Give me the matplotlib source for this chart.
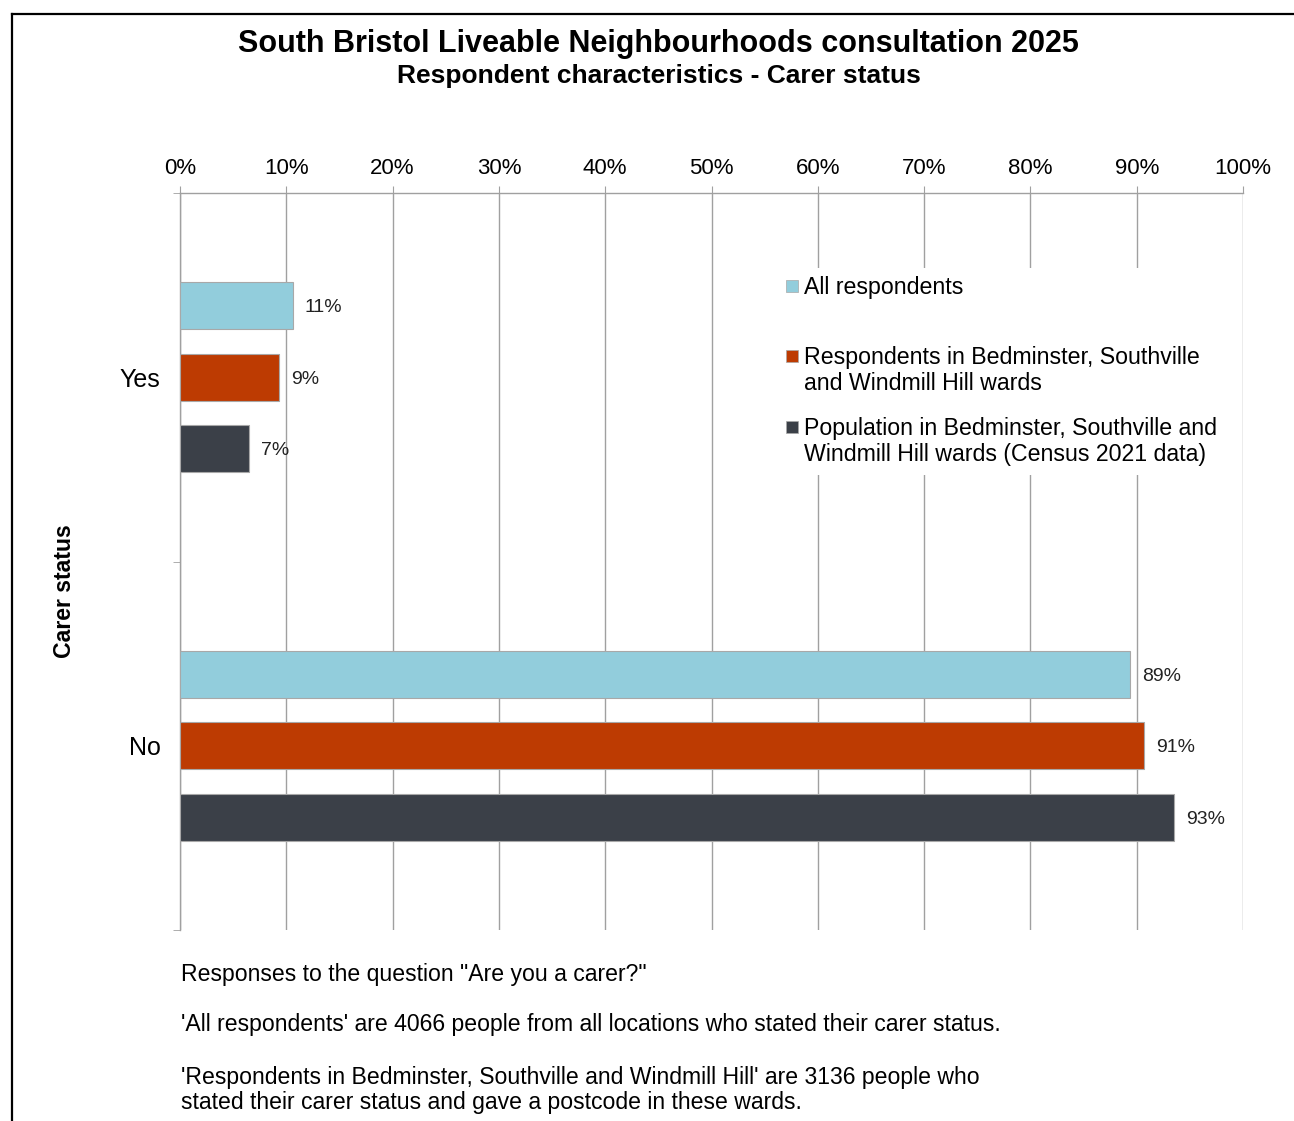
import matplotlib.pyplot as plt
from matplotlib.lines import Line2D
from matplotlib.patches import Rectangle
import numpy as np

plt.rcParams['font.family'] = ['Liberation Sans', 'DejaVu Sans']

# данные
categories = ['Yes', 'No']
series_names = ['All respondents',
                'Respondents in Bedminster, Southville\nand Windmill Hill wards',
                'Population in Bedminster, Southville and\nWindmill Hill wards (Census 2021 data)']
all_resp = [10.6, 89.4]
ward_resp = [9.3, 90.7]
ward_pop = [6.5, 93.5]
value_labels = [['11%', '89%'], ['9%', '91%'], ['7%', '93%']]
colors = ['#92CDDC', '#BD3B02', '#3B4048']
xticks = np.arange(0, 101, 10)

fig = plt.figure(figsize=(12.94, 11.21), dpi=100)
ax = fig.add_axes([0.1391, 0.1704, 0.8215, 0.6574])

# рамка слева и сверху
fig.add_artist(Line2D([12/1294, 12/1294], [1 - 14/1121, 0], transform=fig.transFigure, color='black', lw=1.6))
fig.add_artist(Line2D([12/1294, 1], [1 - 14/1121, 1 - 14/1121], transform=fig.transFigure, color='black', lw=1.6))

# столбцы
y = np.arange(len(categories))
h = 0.1275
step = 0.194
series = [all_resp, ward_resp, ward_pop]
for i, vals in enumerate(series):
    yy = y + (i - 1) * step
    ax.barh(yy, vals, height=h, color=colors[i], edgecolor='#a8a8a8', linewidth=0.8, zorder=3)
    for v, yv, lab in zip(vals, yy, value_labels[i]):
        ax.text(v + 1.15, yv, lab, va='center_baseline', ha='left', fontsize=14, color='#222222', zorder=4)

ax.set_xlim(0, 100)
ax.set_ylim(1.5, -0.5)
ax.xaxis.tick_top()
ax.set_xticks(xticks)
ax.set_xticklabels([f'{t}%' for t in xticks], fontsize=16)
ax.tick_params(axis='x', length=5, color='#a0a0a0', pad=5)
ax.grid(axis='x', color='#a0a0a0', linewidth=1, zorder=0)

ax.set_yticks(y)
ax.set_yticklabels(categories, fontsize=18)
ax.set_yticks([-0.5, 0.5, 1.5], minor=True)
ax.tick_params(axis='y', which='major', length=0, pad=14)
ax.tick_params(axis='y', which='minor', length=5, color='#a0a0a0')

for s in ['right', 'bottom']:
    ax.spines[s].set_visible(False)
for s in ['left', 'top']:
    ax.spines[s].set_color('#a0a0a0')
    ax.spines[s].set_linewidth(1)

# легенда вручную
ax.add_patch(Rectangle((56.5, -0.296), 41.5, 0.561, transform=ax.transData,
                       facecolor='white', edgecolor='none', zorder=2))
leg_top = [-0.2761, -0.0862, 0.1065]
leg_mid = [-0.2476, -0.0577, 0.1350]
for name, c, lt, lm in zip(series_names, colors, leg_top, leg_mid):
    ax.scatter([57.57], [lm], marker='s', s=64, color=c, edgecolor='#a8a8a8', linewidths=0.5, zorder=5, clip_on=False)
    ax.text(58.7, lt, name, fontsize=16.7, va='top', ha='left', zorder=5, linespacing=1.2)

ax.set_ylabel('Carer status', fontsize=16.6, fontweight='bold')
ax.yaxis.set_label_coords(-0.098, 0.46)

fig.text(0.509, 1 - 44/1121, 'South Bristol Liveable Neighbourhoods consultation 2025',
         ha='center', va='center', fontsize=22, fontweight='bold')
fig.text(0.509, 1 - 76/1121, 'Respondent characteristics - Carer status',
         ha='center', va='center', fontsize=19, fontweight='bold')

fig.text(181/1294, 1 - 975/1121, 'Responses to the question "Are you a carer?"', ha='left', va='center', fontsize=16.6)
fig.text(181/1294, 1 - 1025/1121, "'All respondents' are 4066 people from all locations who stated their carer status.",
         ha='left', va='center', fontsize=16.6)
fig.text(181/1294, 1 - 1090/1121,
         "'Respondents in Bedminster, Southville and Windmill Hill' are 3136 people who\nstated their carer status and gave a postcode in these wards.",
         ha='left', va='center', fontsize=16.6, linespacing=1.15)

fig.savefig('out.png', dpi=100)
